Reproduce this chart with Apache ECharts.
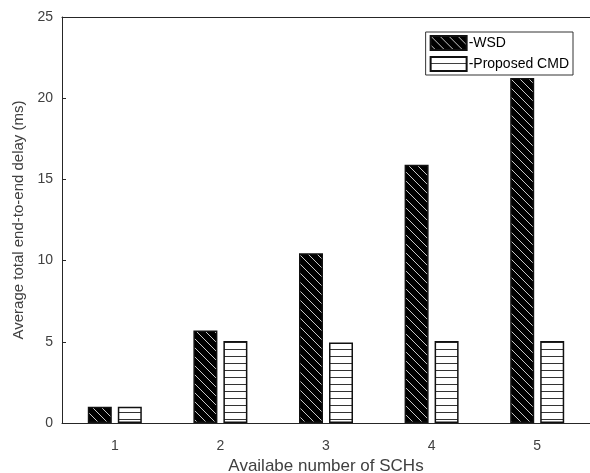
<!DOCTYPE html>
<html><head><meta charset="utf-8">
<script src="https://cdn.jsdelivr.net/npm/echarts@6/dist/echarts.min.js"></script>
<style>html,body{margin:0;padding:0;background:#fff}#c{width:590px;height:473px}</style>
</head><body><div id="c"></div>
<script>
const categories = ['1','2','3','4','5'];
const wsd = [1.0, 5.7, 10.45, 15.9, 21.25];
const cmd = [1.0, 5.05, 4.95, 5.05, 5.05];
const seriesNames = ['WSD','Proposed CMD'];

function diagPattern(){
  const c=document.createElement('canvas'); c.width=9; c.height=9;
  const g=c.getContext('2d');
  g.fillStyle='#000'; g.fillRect(0,0,9,9);
  g.strokeStyle='#c8c8c8'; g.lineWidth=1;
  g.beginPath();
  for(let k=-9;k<=18;k+=9){ g.moveTo(k,0); g.lineTo(k+9,9); }
  g.stroke();
  return c;
}
function horizPattern(){
  const c=document.createElement('canvas'); c.width=8; c.height=7;
  const g=c.getContext('2d');
  g.fillStyle='#fff'; g.fillRect(0,0,8,7);
  g.fillStyle='#333'; g.fillRect(0,6,8,1);
  return c;
}
const chart=echarts.init(document.getElementById('c'));
const axisCol='#262626';
const txtCol='#404040';
chart.setOption({
  animation:false,
  textStyle:{fontFamily:'Liberation Sans, Arial, sans-serif'},
  grid:{left:62,right:0,top:17,bottom:50,containLabel:false,outerBoundsMode:'none'},
  legend:{
    right:17, top:32, orient:'vertical', itemGap:5, itemWidth:36, itemHeight:14,
    icon:'rect',
    padding:[3,4,3,4], borderColor:'#333', borderWidth:1, backgroundColor:'#fff',
    formatter: n=>'-'+n,
    textStyle:{fontSize:14,color:'#000',padding:[0,0,0,-3]}
  },
  xAxis:[{
    type:'category', data:categories,
    name:'Availabe number of SCHs', nameLocation:'middle', nameGap:35,
    nameTextStyle:{fontSize:17,color:txtCol},
    axisLine:{lineStyle:{color:axisCol}},
    axisTick:{inside:true,alignWithLabel:true,length:4,lineStyle:{color:axisCol}},
    axisLabel:{fontSize:14,color:txtCol,margin:16}
  },{
    type:'category', data:categories, position:'top',
    axisLine:{lineStyle:{color:axisCol}},
    axisTick:{inside:true,alignWithLabel:true,length:4,lineStyle:{color:axisCol}},
    axisLabel:{show:false}
  }],
  yAxis:[{
    type:'value', min:0, max:25, interval:5,
    name:'Average total end-to-end delay (ms)', nameLocation:'middle', nameGap:27,
    nameTextStyle:{fontSize:15,color:txtCol},
    axisLine:{show:true,lineStyle:{color:axisCol}},
    axisTick:{show:true,inside:true,length:4,lineStyle:{color:axisCol}},
    axisLabel:{fontSize:14,color:txtCol,margin:9},
    splitLine:{show:false}
  }],
  series:[{
    name:seriesNames[0], type:'bar', data:wsd, barWidth:24, barGap:'25%',
    itemStyle:{color:{image:diagPattern(),repeat:'repeat'},borderColor:'#111',borderWidth:1.5}
  },{
    name:seriesNames[1], type:'bar', data:cmd, barWidth:24,
    itemStyle:{color:{image:horizPattern(),repeat:'repeat'},borderColor:'#111',borderWidth:1.5}
  }]
});
</script></body></html>
